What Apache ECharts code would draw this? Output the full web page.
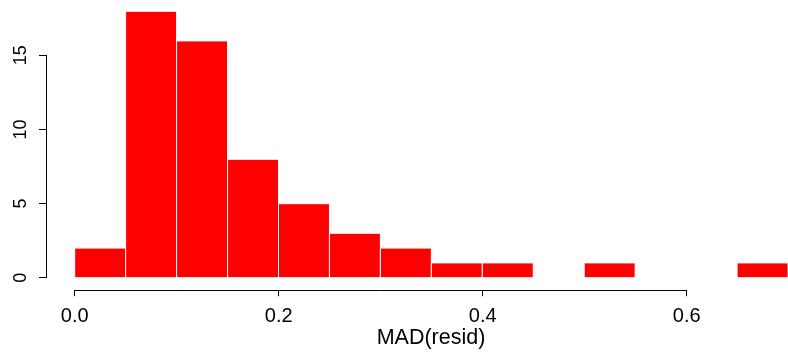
<!DOCTYPE html>
<html>
<head>
<meta charset="utf-8">
<script src="https://cdn.jsdelivr.net/npm/echarts@6/dist/echarts.min.js"></script>
<style>html,body{margin:0;padding:0;background:#fff;}#c{width:788px;height:358px;}</style>
</head>
<body>
<div id="c"></div>
<script>
// Histogram bins (left edges) and counts
var binStarts = [0.00, 0.05, 0.10, 0.15, 0.20, 0.25, 0.30, 0.35, 0.40, 0.45, 0.50, 0.55, 0.60, 0.65];
var binWidth = 0.05;
var counts = [2, 18, 16, 8, 5, 3, 2, 1, 1, 0, 1, 0, 0, 1];
var xTicks = [0.0, 0.2, 0.4, 0.6];
var yTicks = [0, 5, 10, 15];
var xLabel = 'MAD(resid)';

var barData = binStarts.map(function (s, i) { return [s, s + binWidth, counts[i]]; })
  .filter(function (d) { return d[2] > 0; });

var chart = echarts.init(document.getElementById('c'), null, {renderer: 'canvas'});
var font = 'Liberation Sans, Arial, Helvetica, sans-serif';
var lineStyle = {color: '#000', width: 1};

chart.setOption({
  animation: false,
  backgroundColor: '#fff',
  grid: [
    {left: 74.7, top: 11.3, width: 714, height: 266.4},
    {left: 74.7, top: 11.3, width: 612, height: 266.4},
    {left: 74.7, top: 55.3, width: 612, height: 222.4}
  ],
  xAxis: [
    {gridIndex: 0, type: 'value', min: 0, max: 0.7, show: false},
    {gridIndex: 1, type: 'value', min: xTicks[0], max: xTicks[xTicks.length - 1], interval: 0.2,
     position: 'bottom', offset: 12.5,
     axisLine: {show: true, onZero: false, lineStyle: lineStyle},
     axisTick: {show: true, length: 6, inside: false, lineStyle: lineStyle},
     splitLine: {show: false},
     axisLabel: {fontFamily: font, fontSize: 20, color: '#000', margin: 16,
       formatter: function (v) { return v.toFixed(1); }}},
    {gridIndex: 2, type: 'value', min: 0, max: 1, show: false}
  ],
  yAxis: [
    {gridIndex: 0, type: 'value', min: 0, max: 18, show: false},
    {gridIndex: 1, type: 'value', min: 0, max: 1, show: false},
    {gridIndex: 2, type: 'value', min: yTicks[0], max: yTicks[yTicks.length - 1], interval: 5,
     position: 'left', offset: 28.7,
     axisLine: {show: true, onZero: false, lineStyle: lineStyle},
     axisTick: {show: true, length: 7, lineStyle: lineStyle},
     splitLine: {show: false},
     axisLabel: {fontFamily: font, fontSize: 18, color: '#000', rotate: 90, margin: 16}}
  ],
  graphic: [{
    type: 'text',
    x: 431, y: 338,
    style: {text: xLabel, font: '21.5px ' + font, fill: '#000', textAlign: 'center', textVerticalAlign: 'middle'}
  }],
  series: [{
    type: 'custom',
    xAxisIndex: 0, yAxisIndex: 0,
    clip: false,
    data: barData,
    renderItem: function (params, api) {
      var p0 = api.coord([api.value(0), api.value(2)]);
      var p1 = api.coord([api.value(1), 0]);
      return {
        type: 'rect',
        shape: {x: p0[0], y: p0[1], width: p1[0] - p0[0], height: p1[1] - p0[1]},
        style: {fill: '#ff0000', stroke: '#ffffff', lineWidth: 1}
      };
    }
  }]
});
</script>
</body>
</html>
